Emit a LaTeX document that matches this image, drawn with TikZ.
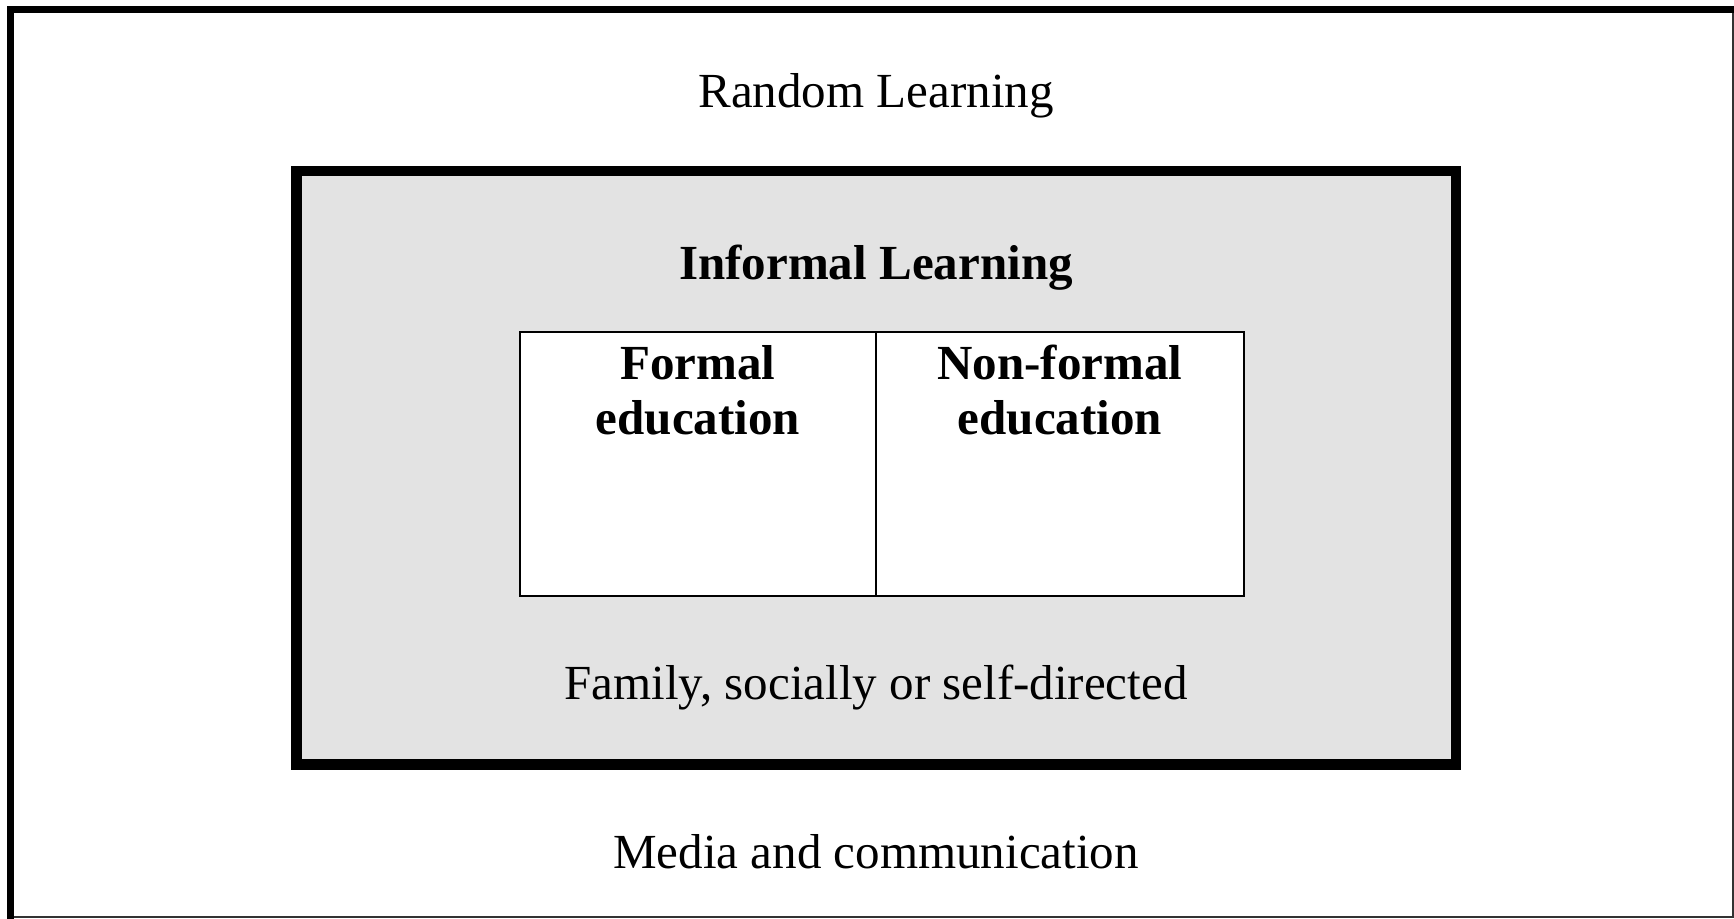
\documentclass[tikz,border=0pt]{standalone}
\usepackage{fontspec}
\setmainfont{Liberation Serif}
\usepackage{tikz}
\usetikzlibrary{positioning}
\definecolor{boxgray}{HTML}{E3E3E3}

\begin{document}
\begin{tikzpicture}
[txt/.style={anchor=base,inner sep=0pt,font=\fontsize{13.95}{15.9}\selectfont},
 btxt/.style={txt,font=\fontsize{13.95}{15.9}\selectfont\bfseries,align=center},
 thickline/.style={line width=0.07cm},
 thinline/.style={line width=0.02cm}]
\useasboundingbox (0,0) rectangle (17.34,9.19);

\coordinate (tl) at (0.105,9.095);
\coordinate (tr) at (17.33,9.095);
\coordinate (bl) at (0.105,0.02);
\coordinate (br) at (17.33,0.02);

\draw [thinline,draw=black!80] (tr) -- (br) -- (bl);
\draw [thickline,line cap=rect] (bl) -- (tl) -- (tr);

\draw [line width=0.105cm,fill=boxgray] (2.965,1.545) rectangle (14.56,7.48);
\draw [line width=0.015cm,fill=white] (5.20,3.23) rectangle (12.44,5.87);

\coordinate (divtop) at (8.76,5.87);
\coordinate (divbot) at (8.76,3.23);
\draw [line width=0.015cm] (divtop) -- (divbot);

\node[txt] (random) at (8.76,8.11) {Random Learning};
\node[btxt] (informal) at (8.76,6.39) {Informal Learning};
\node[btxt] (formal) at (6.98,4.84) {Formal\\education};
\node[btxt] (nonformal) at (10.60,4.84) {Non-formal\\education};
\node[txt] (family) at (8.76,2.19) {Family, socially or self-directed};
\node[txt] (media) at (8.76,0.50) {Media and communication};
\end{tikzpicture}
\end{document}
